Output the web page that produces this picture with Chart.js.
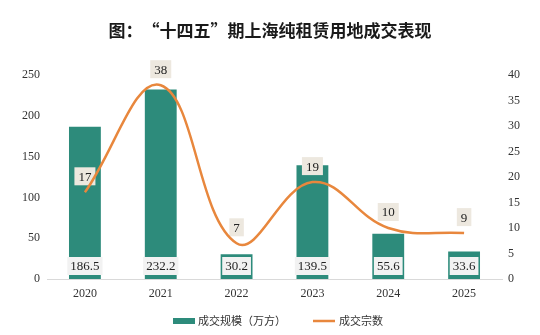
<!DOCTYPE html>
<html>
<head>
<meta charset="utf-8">
<script src="https://cdn.jsdelivr.net/npm/chart.js@4"></script>
<style>
  html, body { margin: 0; padding: 0; background: #fff; }
  #wrap { width: 540px; height: 335px; }
</style>
</head>
<body>
<div id="wrap"><canvas id="chart" width="540" height="335"></canvas></div>
<script>
const years = ['2020', '2021', '2022', '2023', '2024', '2025'];
const areaValues = [186.5, 232.2, 30.2, 139.5, 55.6, 33.6];   // 成交规模（万方）
const dealCounts = [17, 38, 7, 19, 10, 9];                     // 成交宗数
const leftTicks = [0, 50, 100, 150, 200, 250];
const rightTicks = [0, 5, 10, 15, 20, 25, 30, 35, 40];

const serif = '"Liberation Serif", "DejaVu Serif", serif';
const cjk = '"Noto Sans CJK SC", sans-serif';
const teal = '#2d8b7b';
const orange = '#e8873d';

// value boxes: drawn after the bars, before the line goes on top
const labelBoxes = {
    id: 'labelBoxes',
    afterDatasetDraw(chart, args) {
        if (args.index !== 1) return;
        const ctx = chart.ctx;
        ctx.save();
        ctx.font = '13px ' + serif;
        ctx.textAlign = 'center';
        ctx.textBaseline = 'middle';
        const yBottom = chart.scales.y.getPixelForValue(0);
        chart.getDatasetMeta(1).data.forEach((bar, i) => {
            const txt = areaValues[i].toFixed(1);
            const w = ctx.measureText(txt).width + 6;
            const cy = yBottom - 13;
            ctx.fillStyle = '#f2f2f2';
            ctx.fillRect(bar.x - w / 2, cy - 9, w, 18);
            ctx.fillStyle = '#222';
            ctx.fillText(txt, bar.x, cy + 1);
        });
        chart.getDatasetMeta(0).data.forEach((pt, i) => {
            const txt = String(dealCounts[i]);
            const w = ctx.measureText(txt).width + 8;
            const cy = pt.y - 16;
            ctx.fillStyle = '#ede8df';
            ctx.fillRect(pt.x - w / 2, cy - 9, w, 18);
            ctx.fillStyle = '#222';
            ctx.fillText(txt, pt.x, cy + 1);
        });
        ctx.restore();
    }
};

// legend at the bottom, drawn by hand to get the spacing right
const bottomLegend = {
    id: 'bottomLegend',
    afterDraw(chart) {
        const ctx = chart.ctx;
        const y = 321;
        ctx.save();
        ctx.font = '11px ' + cjk;
        ctx.textBaseline = 'middle';
        ctx.textAlign = 'left';
        ctx.fillStyle = teal;
        ctx.fillRect(173, y - 3, 22, 6);
        ctx.fillStyle = '#333';
        ctx.fillText(chart.data.datasets[1].label, 198, y);
        ctx.strokeStyle = orange;
        ctx.lineWidth = 2.5;
        ctx.beginPath();
        ctx.moveTo(313, y);
        ctx.lineTo(335, y);
        ctx.stroke();
        ctx.fillText(chart.data.datasets[0].label, 339, y);
        ctx.restore();
    }
};

new Chart(document.getElementById('chart'), {
    data: {
        labels: years,
        datasets: [
            {
                type: 'line',
                label: '成交宗数',
                data: dealCounts,
                yAxisID: 'y1',
                borderColor: orange,
                backgroundColor: orange,
                borderWidth: 2.5,
                tension: 0.4,
                pointRadius: 0,
                order: 0
            },
            {
                type: 'bar',
                label: '成交规模（万方）',
                data: areaValues,
                yAxisID: 'y',
                backgroundColor: teal,
                categoryPercentage: 1,
                barPercentage: 0.42,
                order: 1
            }
        ]
    },
    options: {
        responsive: false,
        animation: false,
        layout: { padding: { top: 0, bottom: 34 } },
        plugins: {
            title: {
                display: true,
                text: '图：“十四五”期上海纯租赁用地成交表现',
                color: '#1a1a1a',
                font: { family: cjk, size: 17, weight: 'bold' },
                padding: { top: 20, bottom: 34.6 }
            },
            legend: { display: false },
            tooltip: { enabled: false }
        },
        scales: {
            x: {
                afterFit(axis) { axis.height = 22; },
                grid: { display: false, drawTicks: false },
                border: { color: '#d9d9d9' },
                ticks: { color: '#333', font: { family: serif, size: 12 }, padding: 8 }
            },
            y: {
                position: 'left',
                min: 0,
                max: 250,
                afterBuildTicks(axis) { axis.ticks = leftTicks.map(v => ({ value: v })); },
                afterFit(axis) { axis.width = 47; },
                grid: { display: false, drawTicks: false },
                border: { display: false },
                ticks: { color: '#333', font: { family: serif, size: 12 }, padding: 7 }
            },
            y1: {
                position: 'right',
                min: 0,
                max: 40,
                afterBuildTicks(axis) { axis.ticks = rightTicks.map(v => ({ value: v })); },
                afterFit(axis) { axis.width = 38; },
                grid: { display: false, drawTicks: false },
                border: { display: false },
                ticks: { color: '#333', font: { family: serif, size: 12 }, padding: 6 }
            }
        }
    },
    plugins: [labelBoxes, bottomLegend]
});
</script>
</body>
</html>
